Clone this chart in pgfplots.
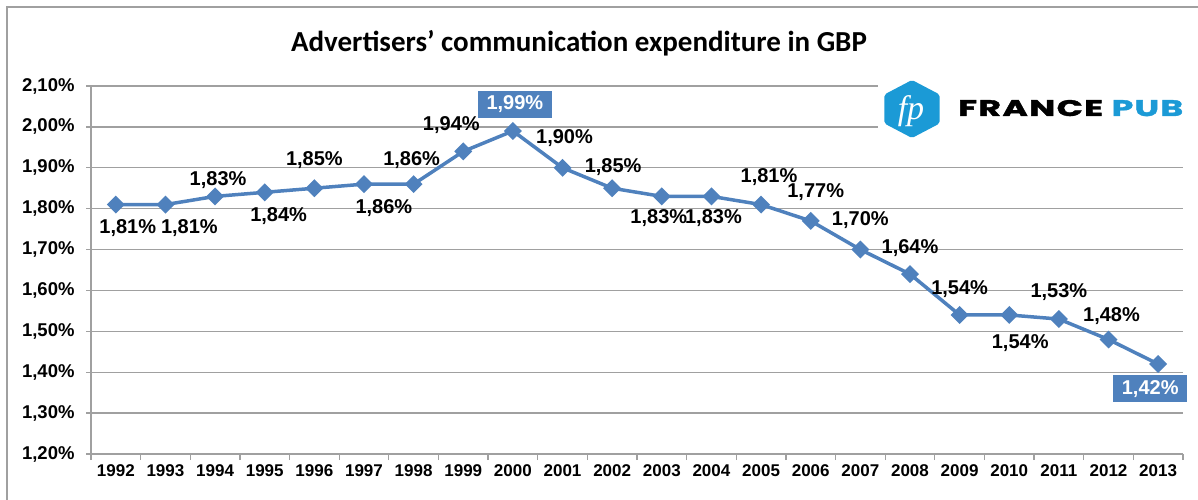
\documentclass[border=0pt]{standalone}
\usepackage{pgfplots}
\pgfplotsset{compat=1.18}
\usepackage{pgfplotstable}
\usepackage{fontspec}
\setmainfont{Liberation Sans}
\newfontfamily\titlefont{Carlito}
\newfontfamily\logofont[LetterSpace=4,FakeBold=1.6]{Poppins}
\newfontfamily\fpfont{Liberation Serif}
\definecolor{xlblue}{HTML}{4F81BD}
\definecolor{fpblue}{HTML}{1B9AD6}
\definecolor{gridgray}{HTML}{A0A0A0}

\pgfplotstableread{
year val
1992 1.81
1993 1.81
1994 1.83
1995 1.84
1996 1.85
1997 1.86
1998 1.86
1999 1.94
2000 1.99
2001 1.90
2002 1.85
2003 1.83
2004 1.83
2005 1.81
2006 1.77
2007 1.70
2008 1.64
2009 1.54
2010 1.54
2011 1.53
2012 1.48
2013 1.42
}\series

\pgfplotstableread{
year val dx dy
1992 1.81 12 -24
1993 1.81 24 -24
1994 1.83 3 16
1995 1.84 14 -24
1996 1.85 0 28
1997 1.86 20 -24
1998 1.86 -2 24
1999 1.94 -12 26
2001 1.90 2 30
2002 1.85 1 21
2003 1.83 -3 -22
2004 1.83 2 -22
2005 1.81 8 28
2006 1.77 5 29
2007 1.70 0 30
2008 1.64 0 26
2009 1.54 0 26
2010 1.54 11 -28
2011 1.53 0 27
2012 1.48 3 24
}\plainlabels

\pgfplotstableread{
year val dx dy
2000 1.99 2 27
2013 1.42 -8 -25
}\boxlabels

\begin{document}
\begin{tikzpicture}
\useasboundingbox (0bp,0bp) rectangle (1198bp,500bp);
\draw[gridgray, line width=2bp] (7bp,0bp) -- (7bp,493bp) -- (1198bp,493bp);
\node[font=\titlefont\bfseries\fontsize{29bp}{33bp}\selectfont, inner sep=0pt] at (579bp,457bp) {Advertisers’ communication expenditure in GBP};
\begin{axis}[
  at={(91bp,46bp)}, anchor=south west,
  width=1092bp, height=368bp, scale only axis,
  clip=false,
  xmin=1991.5, xmax=2013.5, ymin=1.2, ymax=2.1,
  axis x line*=bottom, axis y line*=left,
  axis line style={gridgray, line width=1.3bp},
  xtick={1992,1993,...,2013},
  minor xtick={1991.5,1992.5,...,2013.5},
  ytick={1.2,1.3,1.4,1.5,1.6,1.7,1.8,1.9,2.0,2.1},
  yticklabels={{1,20\%},{1,30\%},{1,40\%},{1,50\%},{1,60\%},{1,70\%},{1,80\%},{1,90\%},{2,00\%},{2,10\%}},
  ymajorgrids,
  major grid style={gridgray, line width=1.3bp},
  tick align=outside,
  major tick length=5bp, minor tick length=6bp,
  major x tick style={draw=none},
  minor x tick style={gridgray, line width=1.3bp},
  ytick style={gridgray, line width=1.3bp},
  /pgf/number format/assume math mode=true,
  xticklabel style={/pgf/number format/1000 sep={}, font=\bfseries\fontsize{17bp}{20bp}\selectfont, yshift=-2bp},
  yticklabel style={font=\bfseries\fontsize{18.5bp}{22bp}\selectfont, xshift=-8bp},
]
\addplot[xlblue, line width=3.5bp, mark=square*, mark size=4.6bp, mark options={rotate=45, solid, fill=xlblue}] table[x=year,y=val]{\series};

\addplot[draw=none, mark=none, point meta=explicit,
  visualization depends on={\thisrow{dx}\as\dx},
  visualization depends on={\thisrow{dy}\as\dy},
  nodes near coords={\pgfmathprintnumber[fixed,fixed zerofill,precision=2,use comma]{\pgfplotspointmeta}\%},
  every node near coord/.append style={anchor=center, xshift=\dx, yshift=\dy, text=black, inner sep=0pt, font=\bfseries\fontsize{20bp}{24bp}\selectfont}
] table[x=year,y=val,meta=val]{\plainlabels};

\addplot[draw=none, mark=none, point meta=explicit,
  visualization depends on={\thisrow{dx}\as\dx},
  visualization depends on={\thisrow{dy}\as\dy},
  nodes near coords={\pgfmathprintnumber[fixed,fixed zerofill,precision=2,use comma]{\pgfplotspointmeta}\%},
  every node near coord/.append style={anchor=center, xshift=\dx, yshift=\dy, fill=xlblue, text=white, inner xsep=8.5bp, inner ysep=5bp, font=\bfseries\fontsize{20bp}{24bp}\selectfont}
] table[x=year,y=val,meta=val]{\boxlabels};
\end{axis}
% logo
\fill[white] (878bp,358bp) rectangle (1186bp,422bp);
\fill[fpblue, rounded corners=2bp] (912bp,420bp) -- (884.4bp,405.5bp) -- (884.4bp,376.5bp) -- (912bp,362bp) -- (939.6bp,376.5bp) -- (939.6bp,405.5bp) -- cycle;
\node[text=white, inner sep=0pt] at (911bp,389bp) {\fpfont\itshape\fontsize{34bp}{34bp}\selectfont fp};
\node[anchor=base west, inner sep=0pt] at (958bp,384bp) {\resizebox{225bp}{16bp}{\logofont\bfseries FRANCE \textcolor{fpblue}{PUB}}};
\end{tikzpicture}
\end{document}
